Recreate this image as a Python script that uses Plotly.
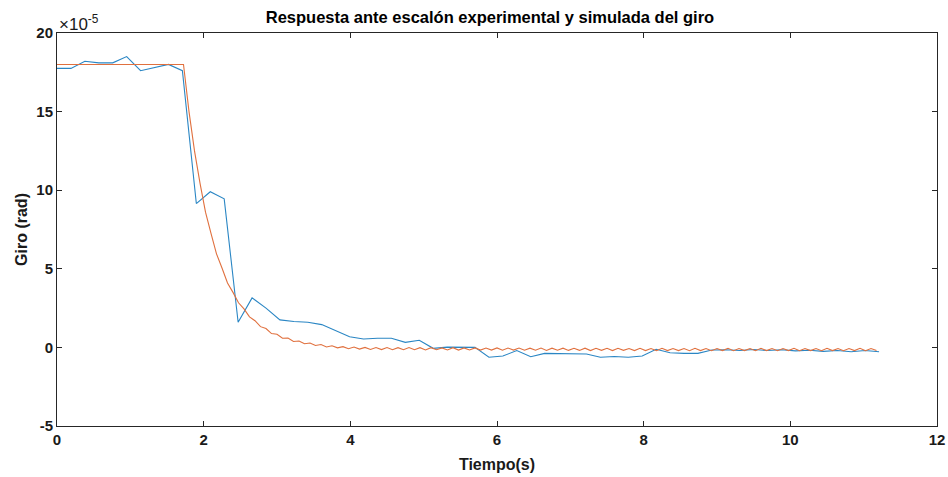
import numpy as np
import plotly.graph_objects as go

# Experimental response (units of 1e-5 rad), sampled every 0.19 s
dt_exp = 0.19
exp_vals = [
    17.75, 17.75, 18.2, 18.1, 18.1, 18.5, 17.6, 17.8, 18.0, 17.6,
    9.15, 9.9, 9.45, 1.6, 3.15, 2.5, 1.75, 1.65, 1.6, 1.45,
    1.05, 0.68, 0.53, 0.58, 0.58, 0.32, 0.45, -0.06, 0.02, 0.02,
    0.0, -0.63, -0.55, -0.2, -0.59, -0.38, -0.40, -0.40, -0.42, -0.63,
    -0.58, -0.63, -0.55, -0.12, -0.34, -0.38, -0.38, -0.17, -0.15, -0.2,
    -0.13, -0.2, -0.15, -0.22, -0.18, -0.25, -0.2, -0.28, -0.2, -0.28,
]
t_exp = np.round(np.arange(len(exp_vals)) * dt_exp, 3)

# Simulated response (units of 1e-5 rad), sampled every 0.075 s
dt_sim = 0.075
sim_vals = [
    18.0, 18.0, 18.0, 18.0, 18.0, 18.0, 18.0, 18.0, 18.0, 18.0,
    18.0, 18.0, 18.0, 18.0, 18.0, 18.0, 18.0, 18.0, 18.0, 18.0,
    18.0, 18.0, 18.0, 18.0, 15.0, 12.5, 10.45, 8.6, 7.25, 5.95,
    5.05, 4.1, 3.5, 2.84, 2.45, 1.94, 1.7, 1.32, 1.2, 0.88,
    0.84, 0.58, 0.6, 0.38, 0.41, 0.23, 0.28, 0.12, 0.18, 0.03,
    0.1, -0.03, 0.05, -0.08, 0.02, -0.11, 0.0, -0.13, -0.01, -0.14,
    -0.01, -0.15, -0.02, -0.15, -0.01, -0.15, -0.02, -0.16, -0.02, -0.15,
    -0.03, -0.16, -0.02, -0.17, -0.03, -0.16, -0.03, -0.17, -0.04, -0.17,
    -0.03, -0.18, -0.04, -0.17, -0.04, -0.18, -0.05, -0.18, -0.04, -0.19,
    -0.05, -0.18, -0.05, -0.19, -0.06, -0.19, -0.05, -0.2, -0.06, -0.19,
    -0.06, -0.2, -0.06, -0.19, -0.07, -0.2, -0.06, -0.2, -0.07, -0.21,
    -0.06, -0.2, -0.07, -0.2, -0.07, -0.21, -0.06, -0.2, -0.07, -0.21,
    -0.07, -0.2, -0.06, -0.21, -0.07, -0.2, -0.07, -0.21, -0.06, -0.2,
    -0.07, -0.21, -0.07, -0.2, -0.06, -0.21, -0.07, -0.2, -0.07, -0.21,
    -0.06, -0.2, -0.07, -0.21, -0.07, -0.2, -0.06, -0.21, -0.07, -0.2,
]
t_sim = np.round(np.arange(len(sim_vals)) * dt_sim, 3)

x_ticks = [0, 2, 4, 6, 8, 10, 12]
y_ticks = [-5, 0, 5, 10, 15, 20]
y_tick_text = ["-5", "0", "5", "10", "15", "20"]

FONT = "Liberation Sans, Arial, Helvetica, sans-serif"
AX = "#262626"
TXT = "#1a1a1a"

fig = go.Figure()
fig.add_trace(go.Scatter(x=t_exp, y=exp_vals, mode="lines",
                         line=dict(color="#2a86c4", width=1.1), showlegend=False))
fig.add_trace(go.Scatter(x=t_sim, y=sim_vals, mode="lines",
                         line=dict(color="#e0703e", width=1.1), showlegend=False))

axis_common = dict(showline=True, linecolor=AX, linewidth=1, mirror="ticks",
                   ticks="inside", ticklen=5, tickcolor=AX, tickwidth=1,
                   showgrid=False, zeroline=False, automargin=False,
                   tickfont=dict(family=FONT, size=15, color=TXT, weight="bold"))

fig.update_xaxes(range=[0, 12], tickvals=x_ticks,
                 title=dict(text="<b>Tiempo(s)</b>", font=dict(family=FONT, size=16, color=TXT),
                            standoff=11),
                 **axis_common)
fig.update_yaxes(range=[-5, 20], tickvals=y_ticks, ticktext=y_tick_text,
                 title=dict(text="<b>Giro (rad)</b>", font=dict(family=FONT, size=16, color=TXT),
                            standoff=4),
                 **axis_common)

fig.update_layout(
    width=948, height=477,
    margin=dict(l=57, r=11, t=33, b=51),
    paper_bgcolor="white", plot_bgcolor="white",
    title=dict(text="<b>Respuesta ante escalón experimental y simulada del giro</b>",
               font=dict(family=FONT, size=16.5, color="#000000"),
               x=0.492, xref="paper", xanchor="center", y=0.963, yanchor="middle"),
    annotations=[dict(text="×10<sup>-5</sup>", xref="paper", yref="paper",
                      x=0, y=1, xanchor="left", yanchor="bottom", showarrow=False,
                      font=dict(family=FONT, size=17, color=TXT), yshift=-3)],
)

fig.write_html("out.html")
